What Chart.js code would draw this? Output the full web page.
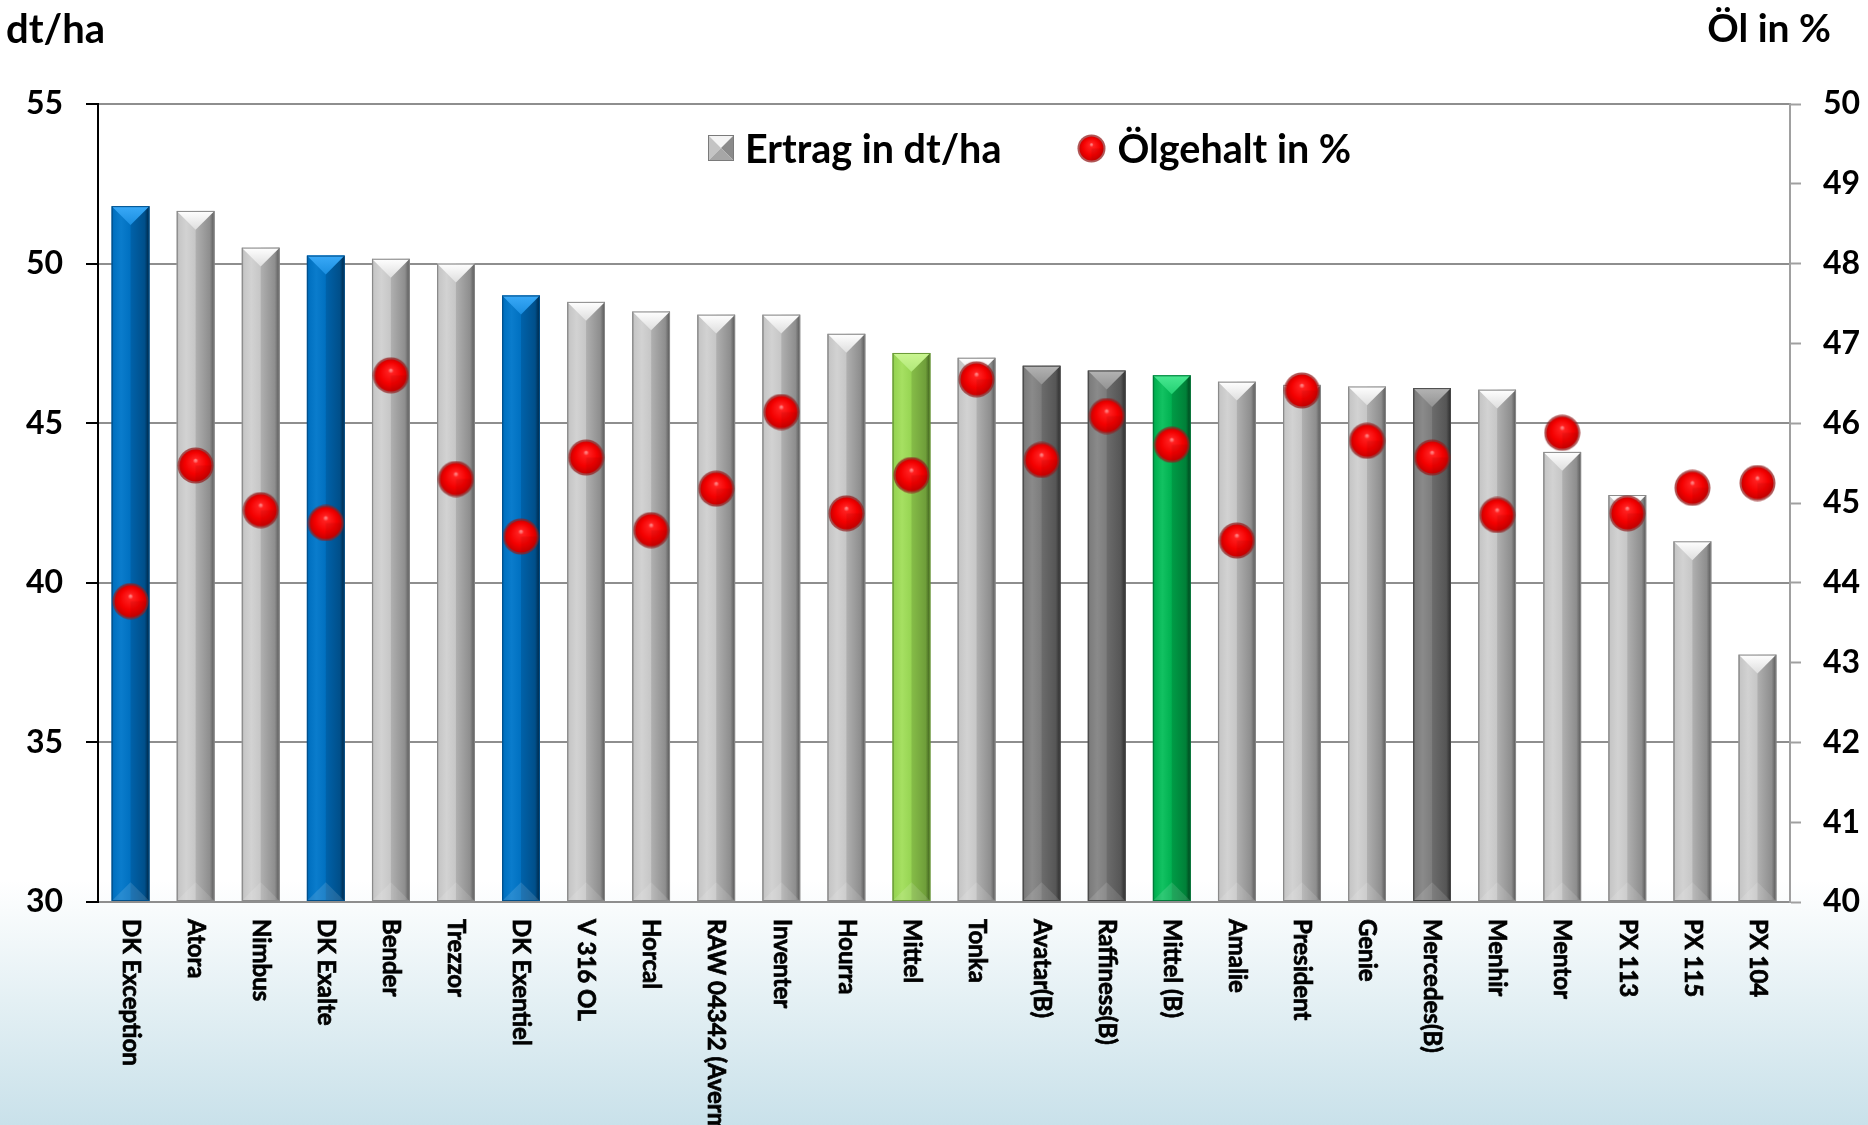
<!DOCTYPE html>
<html lang="de">
<head>
<meta charset="utf-8">
<title>Ertrag und Ölgehalt</title>
<script src="https://cdn.jsdelivr.net/npm/chart.js@4.4.1/dist/chart.umd.min.js"></script>
<style>
  html, body { margin: 0; padding: 0; }
  body {
    width: 1868px; height: 1125px; overflow: hidden; position: relative;
    background: linear-gradient(to bottom, #ffffff 0px, #ffffff 880px, #e4f0f4 1000px, #c9e1ea 1125px);
    font-family: Lato, "Open Sans", sans-serif;
  }
  #wrap { position: absolute; left: 0; top: 0; width: 1868px; height: 1125px; }
  .unit { position: absolute; top: 8px; font-weight: bold; font-size: 40px; line-height: 1; color: #000; }
  #unitLeft { left: 6px; }
  #unitRight { right: 37px; font-size: 39px; }
  #legend {
    position: absolute; left: 708px; top: 126px; height: 44px;
    display: flex; align-items: center;
    font-weight: bold; font-size: 39.5px; line-height: 44px; color: #000;
  }
  #legend .item { display: flex; align-items: center; }
  #legend .item + .item { margin-left: 76px; }
  #legend canvas { display: block; margin-right: 11px; }
</style>
</head>
<body>
<div id="wrap"><canvas id="chart" width="1868" height="1125"></canvas></div>
<div class="unit" id="unitLeft">dt/ha</div>
<div class="unit" id="unitRight">Öl in %</div>
<div id="legend">
  <div class="item" id="legBar"><span>Ertrag in dt/ha</span></div>
  <div class="item" id="legDot"><span>Ölgehalt in %</span></div>
</div>
<script>
// Sorten, sortiert nach Ertrag
const varieties = ['DK Exception', 'Atora', 'Nimbus', 'DK Exalte', 'Bender', 'Trezzor', 'DK Exentiel',
    'V 316 OL', 'Horcal', 'RAW 04342 (Averm', 'Inventer', 'Hourra', 'Mittel', 'Tonka', 'Avatar(B)',
    'Raffiness(B)', 'Mittel (B)', 'Amalie', 'President', 'Genie', 'Mercedes(B)', 'Menhir', 'Mentor',
    'PX 113', 'PX 115', 'PX 104'];

// Ertrag in dt/ha (linke Achse)
const ertrag = [51.8, 51.65, 50.5, 50.25, 50.15, 50.0, 49.0, 48.8, 48.5, 48.4, 48.4, 47.8, 47.2,
    47.05, 46.8, 46.65, 46.5, 46.3, 46.2, 46.15, 46.1, 46.05, 44.1, 42.75, 41.3, 37.75];

// Ölgehalt in % (rechte Achse)
const oelgehalt = [43.77, 45.47, 44.91, 44.75, 46.6, 45.3, 44.58, 45.57, 44.66, 45.18, 46.14, 44.87,
    45.35, 46.55, 45.54, 46.09, 45.73, 44.53, 46.41, 45.78, 45.57, 44.85, 45.88, 44.87, 45.19, 45.25];

const leftTicks = [30, 35, 40, 45, 50, 55];
const rightTicks = [40, 41, 42, 43, 44, 45, 46, 47, 48, 49, 50];

const palettes = {
    gray:   { edge: '#8a8a8a', light: '#d2d2d2', mid: '#c6c6c6', shade: '#b0b0b0', dark: '#8e8e8e', deep: '#555555', cap: '#ffffff', capLow: '#dedede' },
    blue:   { edge: '#00508c', light: '#0a7ccc', mid: '#0070c0', shade: '#0062aa', dark: '#004f8a', deep: '#00233f', cap: '#3aaaf8', capLow: '#1a8ee0' },
    dark:   { edge: '#484848', light: '#8a8a8a', mid: '#7c7c7c', shade: '#6c6c6c', dark: '#565656', deep: '#2a2a2a', cap: '#b4b4b4', capLow: '#939393' },
    lime:   { edge: '#6a9a38', light: '#a6e062', mid: '#96d452', shade: '#86bd48', dark: '#6f9e3a', deep: '#3c5c1c', cap: '#cbf692', capLow: '#b0e878' },
    green:  { edge: '#007a3a', light: '#12c262', mid: '#00b050', shade: '#009c46', dark: '#008038', deep: '#003d1a', cap: '#4ae892', capLow: '#22d172' }
};

function paletteFor(name) {
    if (name.startsWith('DK ')) return palettes.blue;
    if (name === 'Mittel') return palettes.lime;
    if (name === 'Mittel (B)') return palettes.green;
    if (name.endsWith('(B)')) return palettes.dark;
    return palettes.gray;
}

function makeSphere(d) {
    const c = document.createElement('canvas');
    c.width = d; c.height = d;
    const g = c.getContext('2d');
    const r = d / 2;
    g.beginPath();
    g.arc(r, r, r - 0.5, 0, Math.PI * 2);
    g.fillStyle = 'rgba(150,30,30,0.75)';
    g.fill();
    const rg = g.createRadialGradient(r, r * 0.72, r * 0.04, r, r, r * 0.95);
    rg.addColorStop(0, '#ff8080');
    rg.addColorStop(0.12, '#ff2020');
    rg.addColorStop(0.6, '#f40000');
    rg.addColorStop(1, '#c00000');
    g.beginPath();
    g.arc(r, r, r - 2.5, 0, Math.PI * 2);
    g.fillStyle = rg;
    g.fill();
    // leicht dunkleres Viertel unten rechts
    g.beginPath();
    g.moveTo(r, r);
    g.arc(r, r, r - 2.5, 0, Math.PI / 2);
    g.closePath();
    g.fillStyle = 'rgba(120,0,0,0.12)';
    g.fill();
    return c;
}

function makeLegendBox(s) {
    const c = document.createElement('canvas');
    c.width = s; c.height = s;
    const g = c.getContext('2d');
    const m = s / 2;
    const tri = (pts, col) => {
        g.beginPath();
        g.moveTo(pts[0], pts[1]); g.lineTo(pts[2], pts[3]); g.lineTo(m, m);
        g.closePath(); g.fillStyle = col; g.fill();
    };
    tri([0, 0, s, 0], '#f4f4f4');
    tri([0, 0, 0, s], '#c4c4c4');
    tri([s, 0, s, s], '#8a8a8a');
    tri([0, s, s, s], '#a6a6a6');
    g.strokeStyle = '#7a7a7a';
    g.strokeRect(0.5, 0.5, s - 1, s - 1);
    return c;
}

const sphere = makeSphere(37);
document.getElementById('legBar').prepend(makeLegendBox(26));
document.getElementById('legDot').prepend(makeSphere(29));

// 3D-Optik der Säulen über die vom Chart berechneten Balken
const barBevel = {
    id: 'barBevel',
    afterDatasetDraw(chart, args) {
        if (args.index !== 0) return;
        const ctx = chart.ctx;
        args.meta.data.forEach((bar, i) => {
            const pal = paletteFor(varieties[i]);
            const { x, y, base, width } = bar.getProps(['x', 'y', 'base', 'width'], true);
            const l = x - width / 2, r = x + width / 2, h = base - y, d = width / 2;
            ctx.save();
            let g = ctx.createLinearGradient(l, 0, x, 0);
            g.addColorStop(0, pal.edge);
            g.addColorStop(0.1, pal.mid);
            g.addColorStop(0.5, pal.light);
            g.addColorStop(1, pal.mid);
            ctx.fillStyle = g;
            ctx.fillRect(l, y, d, h);
            g = ctx.createLinearGradient(x, 0, r, 0);
            g.addColorStop(0, pal.shade);
            g.addColorStop(0.75, pal.dark);
            g.addColorStop(1, pal.deep);
            ctx.fillStyle = g;
            ctx.fillRect(x, y, d, h);
            // Spitze oben
            ctx.beginPath();
            ctx.moveTo(l, y); ctx.lineTo(r, y); ctx.lineTo(x, y + d);
            ctx.closePath();
            g = ctx.createLinearGradient(0, y, 0, y + d);
            g.addColorStop(0, pal.cap);
            g.addColorStop(1, pal.capLow);
            ctx.fillStyle = g;
            ctx.fill();
            // Fuß unten
            ctx.beginPath();
            ctx.moveTo(l, base); ctx.lineTo(r, base); ctx.lineTo(x, base - d);
            ctx.closePath();
            ctx.fillStyle = 'rgba(255,255,255,0.12)';
            ctx.fill();
            ctx.strokeStyle = pal.edge;
            ctx.lineWidth = 1;
            ctx.strokeRect(l + 0.5, y + 0.5, width - 1, h - 1);
            ctx.restore();
        });
    }
};

// Sortennamen senkrecht, von oben nach unten lesbar
const xLabels = {
    id: 'xLabels',
    afterDraw(chart) {
        const { ctx, scales: { x } } = chart;
        ctx.save();
        ctx.font = 'bold 24px Lato';
        ctx.fillStyle = '#000';
        ctx.strokeStyle = '#000';
        ctx.lineWidth = 0.7;
        ctx.textAlign = 'left';
        ctx.textBaseline = 'middle';
        varieties.forEach((lab, i) => {
            ctx.save();
            ctx.translate(x.getPixelForValue(i), x.top + 17);
            ctx.rotate(Math.PI / 2);
            ctx.fillText(lab, 0, 0);
            ctx.strokeText(lab, 0, 0);
            ctx.restore();
        });
        ctx.restore();
    }
};

const ctx = document.getElementById('chart').getContext('2d');
new Chart(ctx, {
    data: {
        labels: varieties,
        datasets: [{
            type: 'bar',
            label: 'Ertrag in dt/ha',
            data: ertrag,
            base: leftTicks[0],
            yAxisID: 'y',
            order: 1,
            backgroundColor: varieties.map(v => paletteFor(v).mid),
            borderWidth: 0,
            barPercentage: 0.58,
            categoryPercentage: 1.0
        }, {
            type: 'line',
            label: 'Ölgehalt in %',
            data: oelgehalt,
            yAxisID: 'y1',
            order: 0,
            showLine: false,
            pointStyle: sphere,
            pointRadius: 18,
            pointHoverRadius: 18
        }]
    },
    options: {
        responsive: false,
        animation: false,
        layout: { padding: { top: 104, left: 0, right: 0, bottom: 0 } },
        plugins: {
            tooltip: { enabled: false },
            legend: { display: false }
        },
        scales: {
            x: {
                type: 'category',
                grid: { display: false },
                border: { color: '#8e8e8e', width: 2 },
                ticks: { display: false },
                afterFit: (s) => { s.height = 223; }
            },
            y: {
                position: 'left',
                min: 30,
                max: 55,
                afterBuildTicks: (s) => { s.ticks = leftTicks.map(v => ({ value: v })); },
                grid: { color: '#8e8e8e', lineWidth: 2, tickColor: '#000', tickLength: 12, tickWidth: 2 },
                border: { color: '#000', width: 2 },
                ticks: { color: '#000', padding: 23, font: { family: 'Lato', size: 32, weight: 'bold' } },
                afterFit: (s) => { s.width = 98; }
            },
            y1: {
                position: 'right',
                min: 40,
                max: 50,
                afterBuildTicks: (s) => { s.ticks = rightTicks.map(v => ({ value: v })); },
                grid: { drawOnChartArea: false, tickColor: '#a0a0a0', tickLength: 11, tickWidth: 2 },
                border: { color: '#a0a0a0', width: 2 },
                ticks: { color: '#000', padding: 22, font: { family: 'Lato', size: 32, weight: 'bold' } },
                afterFit: (s) => { s.width = 78; }
            }
        }
    },
    plugins: [barBevel, xLabels]
});
</script>
</body>
</html>
